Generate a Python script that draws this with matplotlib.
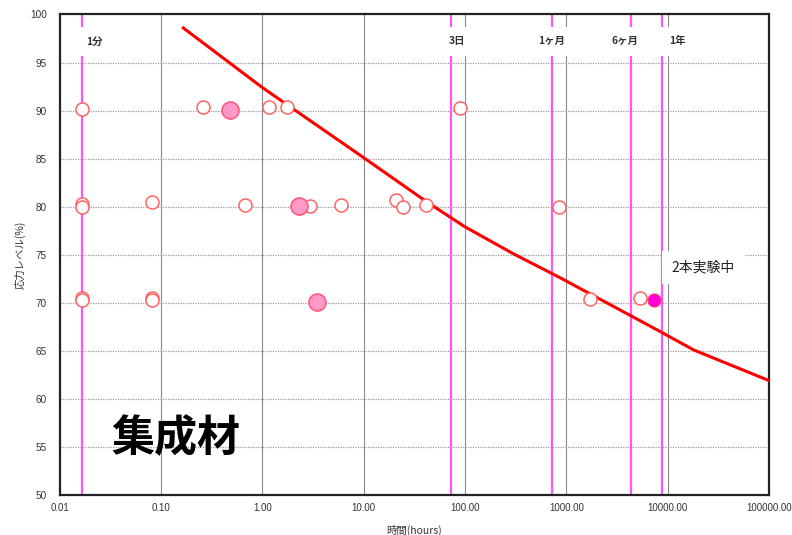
import numpy as np
import matplotlib
matplotlib.use("Agg")
import matplotlib.pyplot as plt
from matplotlib import font_manager

installed = {f.name for f in font_manager.fontManager.ttflist}
narrow = "Liberation Sans Narrow" if "Liberation Sans Narrow" in installed else "Liberation Sans"
plt.rcParams['font.family'] = ['Noto Sans CJK JP', 'DejaVu Sans']

# 試験結果 (時間[h], 応力レベル[%])
open_hours = [0.0167, 0.262, 1.167, 1.745, 89.7,
              0.0167, 0.0167, 0.0822, 0.676, 2.96, 6.04, 20.9, 24.7, 41.4, 838,
              0.0167, 0.0167, 0.0822, 0.0822, 1696, 5370]
open_level = [90.2, 90.35, 90.35, 90.35, 90.3,
              80.3, 79.95, 80.5, 80.2, 80.1, 80.15, 80.7, 80.0, 80.2, 80.0,
              70.5, 70.3, 70.5, 70.3, 70.4, 70.5]

# 代表点 (大きい丸)
big_hours = [0.484, 2.32, 3.45]
big_level = [90.05, 80.1, 70.1]

# 実験中
running_hours = [7330]
running_level = [70.3]

# 推定曲線
curve_hours = [0.166, 1, 10, 42, 100, 300, 870, 7800, 18000, 100000]
curve_level = [98.6, 92.4, 85.1, 80.5, 77.9, 75.1, 72.6, 67.2, 65.1, 61.9]

# 時間の目安
mark_hours = [1 / 60, 72, 720, 4320, 8760]
mark_names = ["1分", "3日", "1ヶ月", "6ヶ月", "1年"]
mark_text_x = [0.0222, 83.2, 721, 3790, 12360]

xticks = [0.01, 0.1, 1, 10, 100, 1000, 10000, 100000]
xticklabels = ["0.01", "0.10", "1.00", "10.00", "100.00", "1000.00", "10000.00", "100000.00"]
yticks = list(range(50, 101, 5))

fig = plt.figure(figsize=(7.92, 5.35), dpi=100)
ax = fig.add_axes([0.0753, 0.0748, 0.8957, 0.8981])
ax.set_xscale('log')
ax.set_xlim(0.01, 100000)
ax.set_ylim(50, 100)

for x in xticks[1:-1]:
    ax.axvline(x, color='#8a8a8a', lw=0.8, zorder=1)
for y in yticks[1:-1]:
    ax.axhline(y, color='#9a9a9a', lw=0.9, ls=(0, (1, 1)), zorder=1)

for x in mark_hours:
    ax.axvline(x, color='#ff55ff', lw=1.6, zorder=2)

ax.plot(curve_hours, curve_level, color='#ff0000', lw=2.2, zorder=3)

ax.scatter(open_hours, open_level, s=88, facecolor='white', edgecolor='#ff6464',
           linewidth=1.1, zorder=5)
ax.scatter(big_hours, big_level, s=150, facecolor='#ff99c8', edgecolor='#ff5a82',
           linewidth=1.2, zorder=6)
ax.scatter(running_hours, running_level, s=85, facecolor='#ff00dd', edgecolor='#ff3377',
           linewidth=1.0, zorder=6)

for x, name in zip(mark_text_x, mark_names):
    ax.text(x, 97.2, name, ha='center', va='center', fontsize=7.5, fontweight='bold',
            color='#333333', zorder=4,
            bbox=dict(boxstyle='square,pad=0.9', facecolor='white', edgecolor='none'))

ax.text(22400, 73.7, "2本実験中", ha='center', va='center', fontsize=10, color='#222222',
        zorder=4, bbox=dict(boxstyle='square,pad=0.7', facecolor='white', edgecolor='none'))

ax.text(0.141, 55.9, "集成材", ha='center', va='center', fontsize=31, fontweight='bold',
        color='black', zorder=4)

ax.set_xticks(xticks)
ax.set_xticklabels(xticklabels, fontsize=7, family=[narrow, 'DejaVu Sans'], color='#333333')
ax.set_xticks([], minor=True)
ax.set_yticks(yticks)
ax.set_yticklabels([str(v) for v in yticks], fontsize=7.2, family=[narrow, 'DejaVu Sans'],
                   color='#333333')
ax.tick_params(axis='both', length=0)
ax.tick_params(axis='x', pad=6)
ax.tick_params(axis='y', pad=9)

ax.set_xlabel("時間(hours)", fontsize=7.5, color='#333333', labelpad=8)
ax.set_ylabel("応力レベル(%)", fontsize=7.5, color='#333333', labelpad=3)

for s in ax.spines.values():
    s.set_color('#222222')
    s.set_linewidth(1.6)

fig.savefig("out.png", dpi=100)
